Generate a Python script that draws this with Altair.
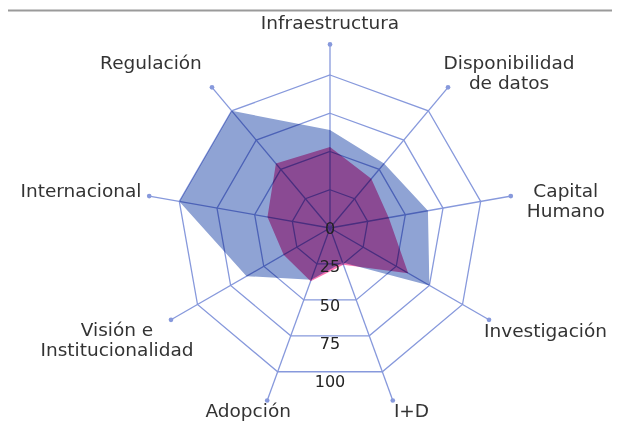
import altair as alt
import pandas as pd

# ---- data ----
dimensiones = ["Infraestructura", "Disponibilidad de datos", "Capital Humano",
               "Investigación", "I+D", "Adopción", "Visión e Institucionalidad",
               "Internacional", "Regulación"]
etiquetas = [["Infraestructura"], ["Disponibilidad", "de datos"], ["Capital", "Humano"],
             ["Investigación"], ["I+D"], ["Adopción"], ["Visión e", "Institucionalidad"],
             ["Internacional"], ["Regulación"]]
serie_azul = [64, 55, 65, 75, 24, 36, 63, 100, 100]
serie_rosa = [53, 42, 39, 59, 25.5, 37, 35, 41.5, 55]
anillos = [25, 50, 75, 100]
ticks = [0, 25, 50, 75, 100]

# ---- layout/style ----
K = 1.53          # px per unit
R_EJE = 120       # length of spokes (units)
W, H = 604, 415
CX, CY = 322, 220  # centre in chart px
GRID = "#8799dc"
AZUL = "#8fa3d4"
ROSA = "#f674b1"
TXT = "#333333"
FONT = "DejaVu Sans"

# per-label offsets (px) from the spoke end, and alignment
lab_off = [(0, -21.7, "center"), (61, -24.4, "center"), (55, -5, "center"),
           (-5, 11, "left"), (18.7, 10, "center"), (-19, 10, "center"),
           (-54, 10, "center"), (-7.7, -5, "right"), (-61, -24.4, "center")]

n = len(dimensiones)
ANG = f"datum.i * 2 * PI / {n}"

xs = alt.Scale(domain=[-CX / K, (W - CX) / K], nice=False, zero=False)
ys = alt.Scale(domain=[-(H - CY) / K, CY / K], nice=False, zero=False)

def X(f):
    return alt.X(f, type="quantitative", scale=xs, axis=None)

def Y(f):
    return alt.Y(f, type="quantitative", scale=ys, axis=None)

# rings
ring_df = pd.DataFrame([{"i": i, "ring": r} for r in anillos for i in range(n)])
rings = alt.Chart(ring_df).mark_line(
    interpolate="linear-closed", stroke=GRID, strokeWidth=1.3
).transform_calculate(
    x=f"datum.ring * sin({ANG})", y=f"datum.ring * cos({ANG})"
).encode(x=X("x"), y=Y("y"), detail="ring:N", order="i:Q")

# spokes + dots
sp_df = pd.DataFrame({"i": list(range(n)), "dim": dimensiones, "r": [R_EJE] * n})
spoke_base = alt.Chart(sp_df).transform_calculate(
    x=f"datum.r * sin({ANG})", y=f"datum.r * cos({ANG})", x0="0", y0="0"
)
spokes = spoke_base.mark_rule(stroke=GRID, strokeWidth=1.3).encode(
    x=X("x0"), y=Y("y0"), x2="x:Q", y2="y:Q")
dots = spoke_base.mark_circle(size=22, color=GRID, opacity=1).encode(x=X("x"), y=Y("y"))

# series polygons
def poly(vals, color):
    df = pd.DataFrame({"i": list(range(n)), "dim": dimensiones, "valor": vals})
    return alt.Chart(df).mark_line(
        interpolate="linear-closed", fill=color, strokeWidth=0, strokeOpacity=0,
        blend="multiply"
    ).transform_calculate(
        x=f"datum.valor * sin({ANG})", y=f"datum.valor * cos({ANG})"
    ).encode(x=X("x"), y=Y("y"), order="i:Q")

azul = poly(serie_azul, AZUL)
rosa = poly(serie_rosa, ROSA)

# tick labels
tk_df = pd.DataFrame({"t": ticks, "lab": [str(t) for t in ticks]})
tick_txt = alt.Chart(tk_df).mark_text(
    font=FONT, fontSize=16, color="#222222", baseline="middle", align="center", dy=1
).transform_calculate(x0="0", y="-datum.t").encode(x=X("x0"), y=Y("y"), text="lab:N")

# axis labels
rows = []
for i, lines in enumerate(etiquetas):
    dx, dy, al = lab_off[i]
    for j, line in enumerate(lines):
        rows.append({"i": i, "txt": line, "ox": dx, "oy": dy + j * 20, "al": al})
lab_df = pd.DataFrame(rows)
lab_layers = []
for al in ["center", "left", "right"]:
    lab_layers.append(
        alt.Chart(lab_df).transform_filter(f"datum.al == '{al}'").transform_calculate(
            x=f"{R_EJE} * sin({ANG}) + datum.ox / {K}",
            y=f"{R_EJE} * cos({ANG}) - datum.oy / {K}",
        ).mark_text(font=FONT, fontSize=18.5, color=TXT, align=al, baseline="middle")
        .encode(x=X("x"), y=Y("y"), text="txt:N")
    )

top_rule = alt.Chart(pd.DataFrame({"a": [0]})).mark_rule(color="#9a9a9a", strokeWidth=2).encode(
    x=alt.value(-8), x2=alt.value(W), y=alt.value(2.5))

chart = alt.layer(top_rule, rings, spokes, dots, azul, rosa, tick_txt, *lab_layers).properties(
    width=W, height=H, padding=0, autosize="none"
).configure_view(stroke=None)

chart.save("out.html", embed_options={"renderer": "svg", "actions": False})
